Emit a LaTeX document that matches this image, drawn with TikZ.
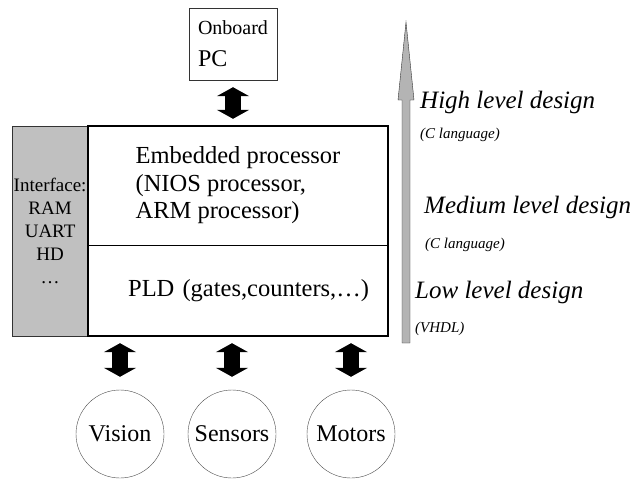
\documentclass[tikz,border=0pt]{standalone}
\usepackage{fontspec}
\setmainfont{Liberation Serif}
\usetikzlibrary{arrows.meta}
\definecolor{panelgray}{RGB}{192,192,192}
\definecolor{levelgray}{RGB}{180,180,180}
\begin{document}
\begin{tikzpicture}[x=1pt,y=-1pt]
	\tikzset{
		every node/.style={inner sep=0pt},
		block/.style={draw,thin,minimum width=300pt,align=left,font=\fontsize{24.5}{27.5}\selectfont},
		unit/.style={draw=black!70,circle,minimum size=88pt,font=\fontsize{24}{28}\selectfont},
		link/.style={line width=16pt,{Triangle[width=32pt,length=9pt]}-{Triangle[width=32pt,length=9pt]}},
		level/.style={anchor=base west,font=\fontsize{25}{30}\selectfont\itshape},
		lang/.style={anchor=base west,font=\fontsize{15}{18}\selectfont\itshape}
	}
	\useasboundingbox (0,0) rectangle (635,482);

	\node[draw=black!80,minimum width=88pt,minimum height=72pt,align=left,font=\fontsize{24}{28}\selectfont] (pc) at (233,44)
		{{\fontsize{20}{24}\selectfont Onboard}\\[4pt]PC};

	\node[block,minimum height=119pt] (emb) at (238,185.5) {Embedded processor\\(NIOS processor,\\ARM processor)};
	\node[block,minimum height=91pt,text width=262pt,align=right] (pld) at (238,290.5) {PLD (gates,counters,…)};
	\node[draw=black!80,fill=panelgray,minimum width=75pt,minimum height=210pt,align=center,
		font=\fontsize{19}{23}\selectfont,anchor=north east] (iface) at (emb.north west) {Interface:\\RAM\\UART\\HD\\…};
	\draw[line width=2.5pt] (emb.north west) rectangle (pld.south east);

	\node[unit] (vision) at (120,434) {Vision};
	\node[unit] (sensors) at (232,434) {Sensors};
	\node[unit] (motors) at (351,434) {Motors};

	\draw[link,shorten <=7pt,shorten >=7pt] (pc.south) -- (pc.south |- emb.north);
	\foreach \u in {vision,sensors,motors}
		\draw[link,shorten <=7pt,shorten >=13pt] (\u.north |- pld.south) -- (\u.north);

	% design levels
	\draw[fill=levelgray,draw=black!80] (402,343) -- (402,100) -- (398,100) -- (406,22)
		-- (414,100) -- (410,100) -- (410,343) -- cycle;
	\node[level] (high) at (420,108) {High level design};
	\node[lang] (highlang) at (420,138) {(C language)};
	\node[level] (medium) at (424,213) {Medium level design};
	\node[lang] (mediumlang) at (425,248) {(C language)};
	\node[level] (low) at (415,298) {Low level design};
	\node[lang] (lowlang) at (415,332) {(VHDL)};
\end{tikzpicture}
\end{document}
